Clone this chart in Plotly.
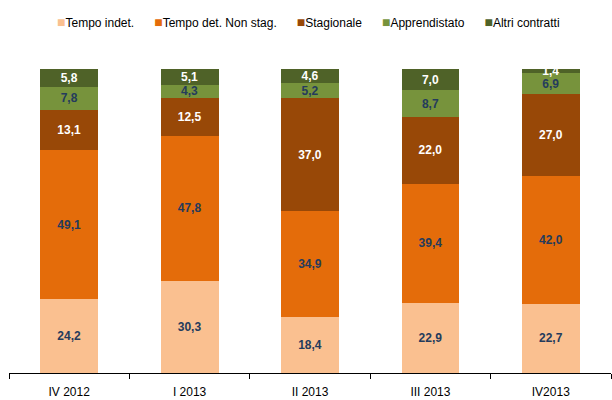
import plotly.graph_objects as go

categories = ["IV 2012", "I 2013", "II 2013", "III 2013", "IV2013"]
tempo_indet = [24.2, 30.3, 18.4, 22.9, 22.7]
tempo_det = [49.1, 47.8, 34.9, 39.4, 42.0]
stagionale = [13.1, 12.5, 37.0, 22.0, 27.0]
apprendistato = [7.8, 4.3, 5.2, 8.7, 6.9]
altri = [5.8, 5.1, 4.6, 7.0, 1.4]

DARK = "#243B5C"
series = [
    ("Tempo indet.", tempo_indet, "#FAC090", DARK),
    ("Tempo det. Non stag.", tempo_det, "#E46C0A", DARK),
    ("Stagionale", stagionale, "#984807", "#FFFFFF"),
    ("Apprendistato", apprendistato, "#77933C", DARK),
    ("Altri contratti", altri, "#4F6228", "#FFFFFF"),
]

FONT = "Liberation Sans, Arial, sans-serif"

fig = go.Figure()
for name, vals, color, tcolor in series:
    fig.add_trace(go.Bar(
        x=categories, y=vals, name=name, showlegend=False,
        marker=dict(color=color, line=dict(width=0)),
        text=[f"{v:.1f}".replace(".", ",") for v in vals],
        textposition="inside", insidetextanchor="middle",
        textangle=0, constraintext="none",
        hoverinfo="skip",
        textfont=dict(color=tcolor, size=12, family=FONT, weight="bold"),
    ))

# Legend drawn as one line of text: coloured squares followed by series names
gap = "\u00a0" * 6
legend_text = gap.join(
    f"<span style='color:{color};font-size:14px'>■</span>{name}"
    for name, _, color, _ in series
)
fig.add_annotation(
    text=legend_text, xref="paper", yref="paper", x=0.497, y=1.156,
    xanchor="center", yanchor="middle", showarrow=False,
    font=dict(family=FONT, size=12, color="#000000"),
)

fig.update_layout(
    barmode="stack", bargap=0.52,
    width=612, height=400,
    margin=dict(l=9, r=1, t=69, b=27),
    paper_bgcolor="white", plot_bgcolor="white",
    font=dict(family=FONT, size=12, color="#000000"),
    uniformtext=dict(minsize=12, mode="show"),
    showlegend=False,
    xaxis=dict(showline=True, linecolor="#000000", linewidth=1, ticks="outside",
               tickson="boundaries", ticklen=5, tickcolor="#000000",
               ticklabelstandoff=8,
               tickfont=dict(size=12, color="#000000"), showgrid=False),
    yaxis=dict(visible=False, range=[0, 100], showgrid=False),
)

fig.write_html("out.html", config={"displayModeBar": False},
               post_script="document.body.style.margin='0';")
